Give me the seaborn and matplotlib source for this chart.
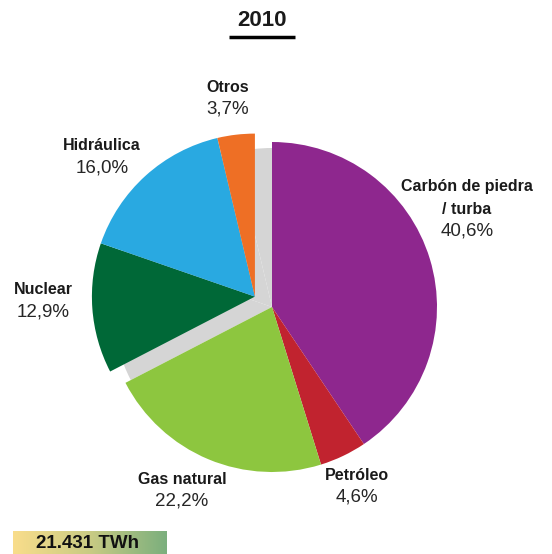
import numpy as np
import matplotlib
matplotlib.use("Agg")
import matplotlib.pyplot as plt
import seaborn as sns
from matplotlib.colors import LinearSegmentedColormap

sns.set_theme(style="white")
plt.rcParams['font.family'] = ['Liberation Sans', 'DejaVu Sans']

# ---- data ----
title = "2010"
categories = ["Carbón de piedra\n/ turba", "Petróleo", "Gas natural", "Nuclear", "Hidráulica", "Otros"]
values = [40.6, 4.6, 22.2, 12.9, 16.0, 3.7]
pct_labels = ["40,6%", "4,6%", "22,2%", "12,9%", "16,0%", "3,7%"]
total_label = "21.431 TWh"
colors = ["#8E278E", "#C1232F", "#8DC63F", "#006837", "#29A9E1", "#EE6F25"]
shifted = [False, False, False, True, True, True]

# ---- layout (pixel space, y down) ----
W, H = 552, 554
fig = plt.figure(figsize=(W / 100, H / 100), dpi=100)
ax = fig.add_axes([0, 0, 1, 1])

cx, cy = 272, H - 307
R = 165
shift = 20

# shadow wedges for the detached group
sh = ax.pie(values, startangle=90, counterclock=False, radius=R, center=(cx, cy),
            colors=["none"] * len(values), wedgeprops=dict(linewidth=0))[0]
for w, s in zip(sh, shifted):
    if s:
        w.set_facecolor("#d5d5d5")
        w.set_radius(R - 6)
        w.set_zorder(1)
    else:
        w.set_visible(False)

wedges = ax.pie(values, startangle=90, counterclock=False, radius=R, center=(cx, cy),
                colors=colors, wedgeprops=dict(linewidth=0))[0]
frac = np.cumsum([0] + values) / sum(values)
idx = [i for i, s in enumerate(shifted) if s]
mid = (frac[idx[0]] + frac[idx[-1] + 1]) / 2
ang = np.deg2rad(90 - 360 * mid)
dx, dy = shift * np.cos(ang), shift * np.sin(ang)
for w, s in zip(wedges, shifted):
    w.set_zorder(3)
    if s:
        w.set_center((cx + dx, cy + dy))
        w.set_radius(R - 2)

# labels
label_pos = [(467, 187), (357, 475), (182, 479), (43, 290), (102, 146), (228, 87)]
for cat, pct, (lx, ly) in zip(categories, pct_labels, label_pos):
    lines = cat.split("\n")
    for k, line in enumerate(lines):
        ax.text(lx, H - (ly + 22 * k), line, ha="center", va="center", fontsize=11.5,
                fontweight="bold", color="#1a1a1a")
    py = ly + 22 * (len(lines) - 1) + 22
    ax.text(lx, H - py, pct, ha="center", va="center", fontsize=13.5, color="#262626")

# title
ax.text(262, H - 21, title, ha="center", va="center", fontsize=16, fontweight="bold", color="#1a1a1a")
ax.plot([229, 295], [H - 37, H - 37], color="black", lw=2.5, solid_capstyle="butt")

# total box with gradient
grad = np.linspace(0, 1, 256).reshape(1, -1)
cmap = LinearSegmentedColormap.from_list("g", ["#F9DD8B", "#C9CB84", "#7BAF7D"])
ax.imshow(grad, cmap=cmap, extent=(13, 167, 0, H - 531), aspect="auto", zorder=2)
ax.text(87, H - 543, total_label, ha="center", va="center", fontsize=13.5, fontweight="bold",
        color="#111111", zorder=4)

ax.set_xlim(0, W)
ax.set_ylim(0, H)
ax.set_aspect("auto")
ax.axis("off")

fig.savefig("out.png", dpi=100)
